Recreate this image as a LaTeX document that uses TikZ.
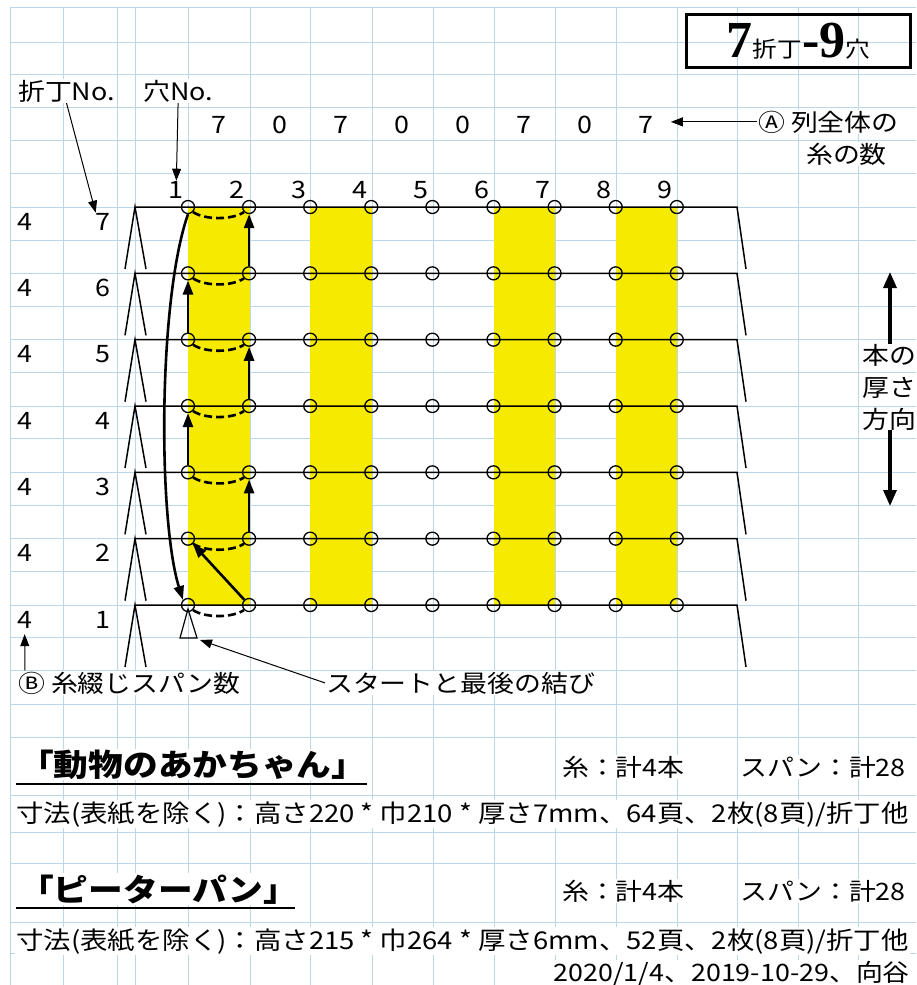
\documentclass[tikz,border=0pt]{standalone}
\usepackage{fontspec}
\setmainfont{Noto Sans CJK JP}[FakeStretch=1.12]
\newfontfamily\numfont{Liberation Serif}
\usetikzlibrary{arrows.meta,calc}
\definecolor{sheetyellow}{RGB}{245,234,0}
\definecolor{gridblue}{RGB}{188,214,234}

\begin{document}
\begin{tikzpicture}[x=1pt,y=-1pt,inner sep=0pt,
   font=\fontsize{24}{26}\selectfont,
   grid/.style={draw=gridblue,line width=0.8pt},
   sheet/.style={line width=1.5pt},
   hole/.style={circle,draw,line width=1.3pt,minimum size=13pt},
   thread/.style={line width=2.6pt,-{Triangle[length=14pt,width=10pt]}},
   knotline/.style={line width=2.6pt,dash pattern=on 8pt off 4pt},
   pointer/.style={line width=1pt,-{Triangle[length=12pt,width=9pt]}},
   bigarrow/.style={line width=3.2pt,-{Triangle[length=16pt,width=13pt]}},
   cell/.style={fill=white,inner xsep=1pt,inner ysep=1pt}]
\useasboundingbox (0,0) rectangle (916,985);
\fill[white] (0,0) rectangle (916,985);
\foreach \gx in {10,63,117,135,188,250,310,372,433,494,555,616,677,737,798,858}
  \draw[grid] (\gx,7) -- (\gx,985);
\foreach \gy in {7,42,74,107,140,173,207,240,273,306,339,372,406,438,472,505,538,571,605,637,670,704,737,795,832,863,922,953}
  \draw[grid] (10,\gy) -- (916,\gy);
\foreach \xa/\xb in {188/250,310/372,494/555,616/677}
  \fill[sheetyellow] (\xa,207) rectangle (\xb,605);
\foreach \s in {1,...,7}{
  \pgfmathsetmacro\sy{605-(\s-1)*66.33}
  \draw[sheet] (125,\sy+62) -- (135,\sy) -- (146,\sy+62);
  \draw[sheet] (135,\sy) -- (737,\sy) -- (746,\sy+62);
  \foreach \h in {1,...,9}
    \node[hole] (h-\h-\s) at (188+\h*61.1-61.1,\sy) {};
  \node[anchor=base west] (span-\s) at (17,\sy+23) {4};
  \node[anchor=base east] (sig-\s) at (111,\sy+23) {\s};
}
\foreach \h in {1,...,9}
  \node[anchor=base east] (num-\h) at (184+\h*61.1-61.1,198) {\h};
\foreach \c [count=\i] in {7,0,7,0,0,7,0,7}
  \node[anchor=base] (cnt-\i) at (218.5+\i*61.1-61.1,133) {\c};

\node[cell,anchor=base west] (foldno) at (17,100) {折丁No.};
\node[cell,anchor=base west] (holeno) at (142,100) {穴No.};
\draw[pointer] (foldno.south) -- (sig-7.north west);
\draw[pointer] (holeno.south) -- (num-1.north);

\node[cell,anchor=base west] (colA) at (757,131) {Ⓐ 列全体の};
\node[cell,anchor=base west] (colA2) at (805,163) {糸の数};
\coordinate (tipA) at ($(cnt-8.east)+(17,0)$);
\draw[pointer] (colA.west) -- (colA.west -| tipA);

\node[draw,line width=3pt,minimum width=224pt,minimum height=53pt] (title) at (798.5,41)
  {{\numfont\bfseries\fontsize{52}{52}\selectfont 7}{\fontsize{22}{22}\selectfont 折丁}{\numfont\bfseries\fontsize{52}{52}\selectfont -9}{\fontsize{22}{22}\selectfont 穴}};

\node[align=center,font=\fontsize{24}{32}\selectfont] (thick) at (889,387) {本の\\厚さ\\方向};
\coordinate (uptip) at (890,272);
\coordinate (downtip) at (890,506);
\draw[bigarrow] (thick.north -| uptip) -- (uptip);
\draw[bigarrow] (thick.south -| downtip) -- (downtip);

\draw[thread] (h-1-7.south) .. controls (158,300) and (158,520) .. (h-1-1.north west);
\foreach \s in {1,...,7}
  \draw[knotline] (h-1-\s.south east) .. controls +(12,8) and +(-12,8) .. (h-2-\s.south west);
\foreach \a/\b in {2-1/1-2,2-2/2-3,1-3/1-4,2-4/2-5,1-5/1-6,2-6/2-7}
  \draw[thread] (h-\a) -- (h-\b);

\draw[line width=1.2pt] (188,609) -- (180,638) -- (197,638) -- cycle;
\coordinate (knot) at (200,640);
\node[cell,anchor=base west] (spanB) at (17,692) {Ⓑ 糸綴じスパン数};
\node[cell,anchor=base west] (knotlbl) at (325,692) {スタートと最後の結び};
\draw[pointer] ($(spanB.north west)+(8,0)$) -- ($(span-1.south)+(0,6)$);
\draw[pointer] (knotlbl.west) -- (knot);

\node[cell,anchor=base west,font=\bfseries\fontsize{31}{34}\selectfont] (book1) at (18,776) {「動物のあかちゃん」};
\draw[line width=2pt] (16,784) -- (367,784);
\node[cell,anchor=base west] (yarn1) at (561,776) {糸：計4本};
\node[cell,anchor=base west] (total1) at (739,776) {スパン：計28};
\node[cell,anchor=base west,font=\fontsize{24.5}{26}\selectfont] (size1) at (15,822) {寸法(表紙を除く)：高さ220 * 巾210 * 厚さ7mm、64頁、2枚(8頁)/折丁他};

\node[cell,anchor=base west,font=\bfseries\fontsize{31}{34}\selectfont] (book2) at (18,901) {「ピーターパン」};
\draw[line width=2pt] (16,908) -- (295,908);
\node[cell,anchor=base west] (yarn2) at (561,900) {糸：計4本};
\node[cell,anchor=base west] (total2) at (739,900) {スパン：計28};
\node[cell,anchor=base west,font=\fontsize{24.5}{26}\selectfont] (size2) at (15,949) {寸法(表紙を除く)：高さ215 * 巾264 * 厚さ6mm、52頁、2枚(8頁)/折丁他};
\node[cell,anchor=base east] (date) at (911,981) {2020/1/4、2019-10-29、向谷};
\end{tikzpicture}
\end{document}
